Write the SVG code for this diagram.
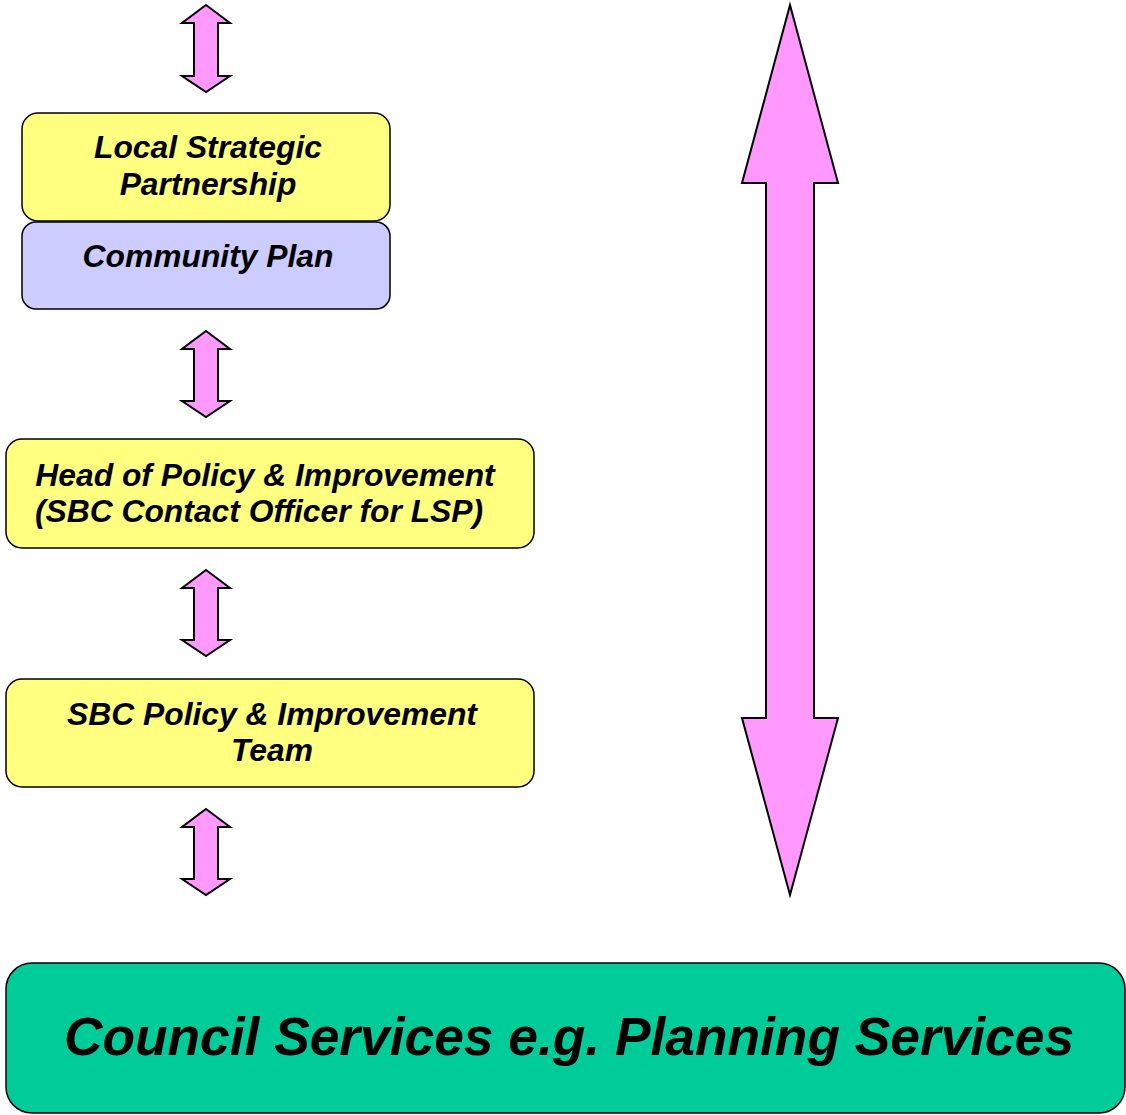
<svg xmlns="http://www.w3.org/2000/svg" width="1126" height="1115" viewBox="0 0 1126 1115">
<style>
.box{stroke:#000;stroke-width:1.5}
.y{fill:#ffff80}
.p{fill:#ccccff}
.g{fill:#00cc99}
.arr{fill:#ff99ff;stroke:#000;stroke-width:2;stroke-linejoin:miter}
text{font-family:"Liberation Sans",Arial,sans-serif;font-weight:bold;font-style:italic;fill:#000;text-anchor:middle}
.t{font-size:31.8px}
.big{font-size:53.3px}
</style>
<rect x="0" y="0" width="1126" height="1115" fill="#fff"/>
<g id="connectors">
<path id="a1" class="arr" d="M206,5 L230,23 L218,23 L218,76 L230,76 L206,92 L182,76 L194,76 L194,23 L182,23 Z"/>
<path id="a2" class="arr" d="M206,331 L230,349 L218,349 L218,401 L230,401 L206,417 L182,401 L194,401 L194,349 L182,349 Z"/>
<path id="a3" class="arr" d="M206,570 L230,588 L218,588 L218,640 L230,640 L206,656 L182,640 L194,640 L194,588 L182,588 Z"/>
<path id="a4" class="arr" d="M206,809 L230,827 L218,827 L218,879 L230,879 L206,895 L182,879 L194,879 L194,827 L182,827 Z"/>
<path id="big" class="arr" d="M790,5 L838,183 L814,183 L814,718 L838,718 L790,895 L742,718 L766,718 L766,183 L742,183 Z"/>
</g>
<g id="lsp">
<rect class="box y" x="22" y="113" width="368" height="108" rx="16"/>
<text class="t" x="208" y="158">Local Strategic</text>
<text class="t" x="208" y="195">Partnership</text>
</g>
<g id="community">
<rect class="box p" x="22" y="222" width="368" height="87" rx="14"/>
<text class="t" x="208" y="267">Community Plan</text>
</g>
<g id="head">
<rect class="box y" x="6" y="439" width="528" height="109" rx="16"/>
<text class="t" x="265" y="486">Head of Policy &amp; Improvement</text>
<text class="t" x="259" y="522">(SBC Contact Officer for LSP)</text>
</g>
<g id="team">
<rect class="box y" x="6" y="679" width="528" height="108" rx="16"/>
<text class="t" x="272" y="725">SBC Policy &amp; Improvement</text>
<text class="t" x="272" y="761">Team</text>
</g>
<g id="council">
<rect class="box g" x="6" y="963" width="1119" height="150" rx="26"/>
<text class="big" x="569" y="1055">Council Services e.g. Planning Services</text>
</g>
</svg>
